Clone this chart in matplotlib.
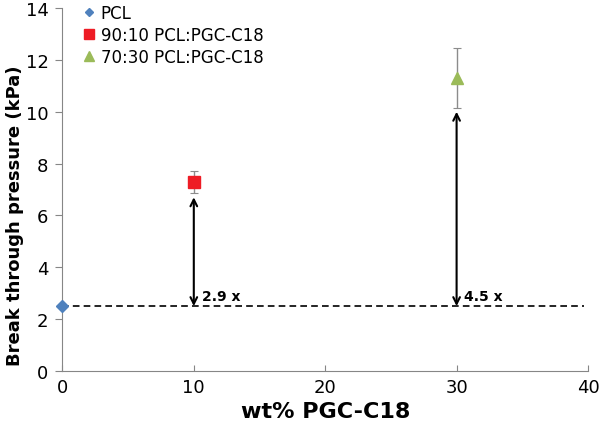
import matplotlib
matplotlib.use("Agg")
import matplotlib.pyplot as plt

# data
labels = ["PCL", "90:10 PCL:PGC-C18", "70:30 PCL:PGC-C18"]
wt_pct = [0, 10, 30]
pressure = [2.5, 7.3, 11.3]
errors = [0.0, 0.42, 1.15]
colors = ["#4F81BD", "#EE1C25", "#9BBB59"]
markers = ["D", "s", "^"]
msizes = [6, 9, 9]

baseline = 2.5
baseline_end = 39.7
fold_x = [10, 30]
fold_top = [6.7, 10.0]
fold_text = ["2.9 x", "4.5 x"]

plt.rcParams["font.family"] = ["DejaVu Sans"]

fig = plt.figure(figsize=(6, 4.31), dpi=100)
ax = fig.add_axes([0.104, 0.137, 0.876, 0.842])

for i in range(3):
    if errors[i] > 0:
        ax.errorbar(wt_pct[i], pressure[i], yerr=errors[i], fmt="none",
                    ecolor="#8C8C8C", elinewidth=1, capsize=3, capthick=0.8, zorder=2)
    ax.plot(wt_pct[i], pressure[i], linestyle="none", marker=markers[i],
            markersize=msizes[i], color=colors[i], label=labels[i], zorder=3)

ax.plot([0, baseline_end], [baseline, baseline], color="black",
        linestyle=(0, (4, 2.5)), linewidth=1.2, zorder=1)

for x, top, txt in zip(fold_x, fold_top, fold_text):
    ax.annotate("", xy=(x, top), xytext=(x, baseline),
                arrowprops=dict(arrowstyle="<->", color="black", lw=1.5,
                                shrinkA=0, shrinkB=0, mutation_scale=12))
    ax.text(x + 0.6, baseline + 0.4, txt, fontsize=10, fontweight="bold",
            va="center", ha="left")

ax.set_xlim(0, 40)
ax.set_ylim(0, 14)
ax.set_xticks([0, 10, 20, 30, 40])
ax.set_yticks(range(0, 15, 2))
ax.tick_params(axis="x", direction="in", length=4, color="#868686",
               labelsize=13, pad=5)
ax.tick_params(axis="y", direction="out", length=5, color="#868686",
               labelsize=13, pad=5)
for s in ["top", "right"]:
    ax.spines[s].set_visible(False)
for s in ["left", "bottom"]:
    ax.spines[s].set_color("#868686")
for art in ax.get_children():
    try:
        art.set_clip_on(False)
    except Exception:
        pass

ax.set_xlabel("wt% PGC-C18", fontsize=16, fontweight="bold", labelpad=4)
ax.set_ylabel("Break through pressure (kPa)", fontsize=13, fontweight="bold")
ax.yaxis.set_label_coords(-0.074, 0.43)

ax.legend(loc="upper left", bbox_to_anchor=(0.025, 1.03), frameon=False,
          fontsize=12, handlelength=0.8, handletextpad=0.3, labelspacing=0.25,
          borderaxespad=0, markerscale=0.75)

fig.savefig("out.png", dpi=100)
